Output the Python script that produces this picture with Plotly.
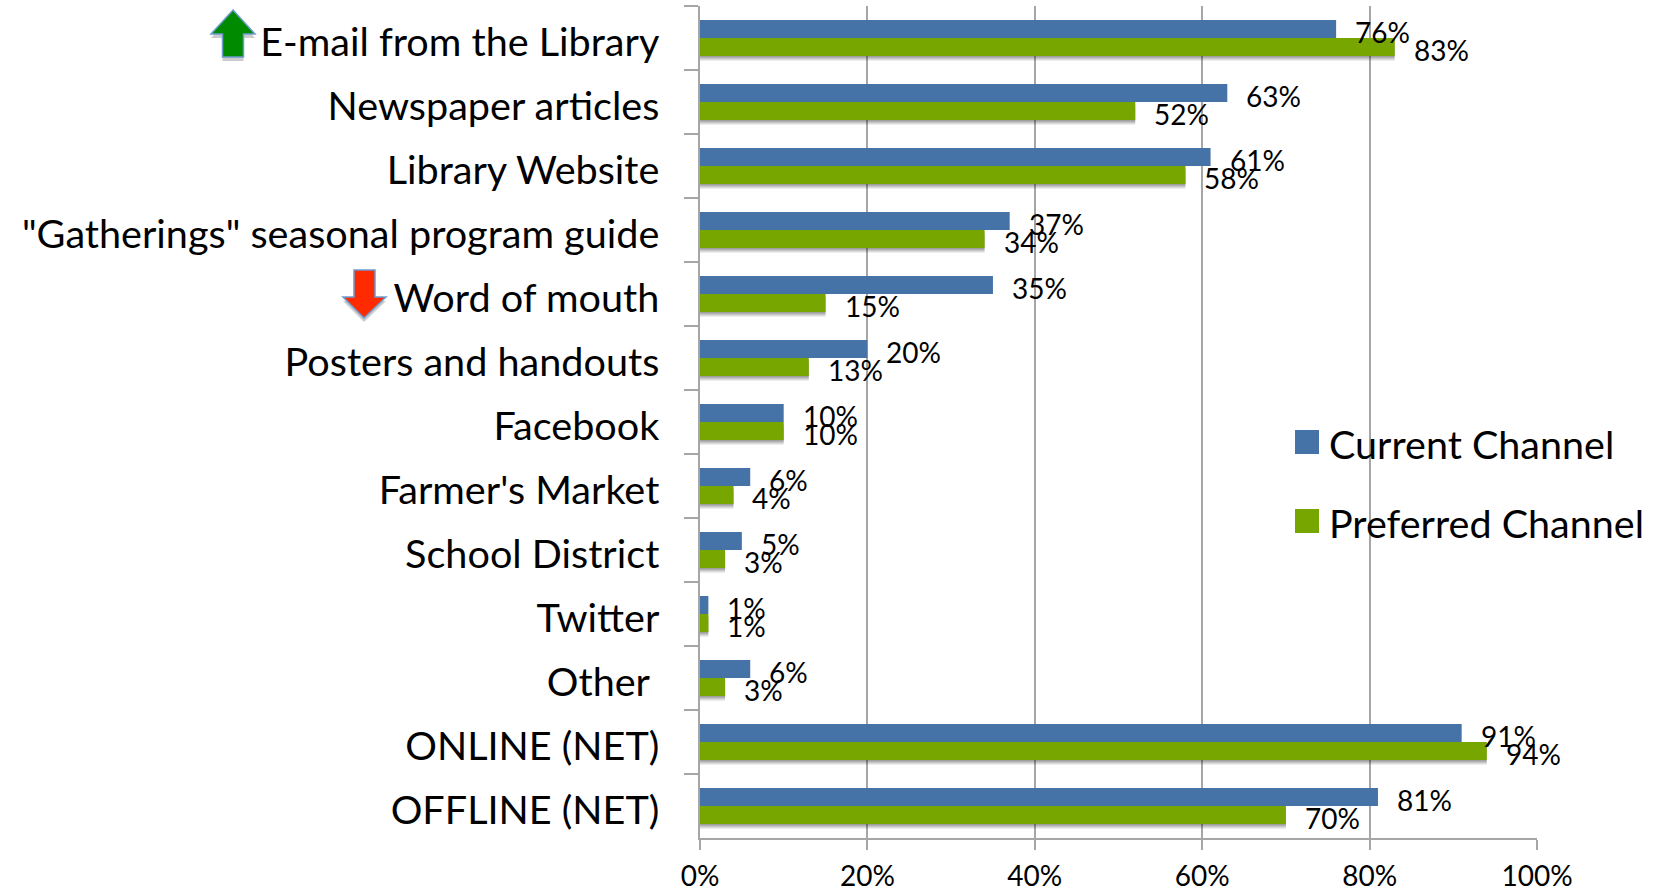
import plotly.graph_objects as go

categories = ["E-mail from the Library", "Newspaper articles", "Library Website",
              '"Gatherings" seasonal program guide', "Word of mouth", "Posters and handouts",
              "Facebook", "Farmer's Market", "School District", "Twitter", "Other\u00a0",
              "ONLINE (NET)", "OFFLINE (NET)"]
current_channel = [76, 63, 61, 37, 35, 20, 10, 6, 5, 1, 6, 91, 81]
preferred_channel = [83, 52, 58, 34, 15, 13, 10, 4, 3, 1, 3, 94, 70]
x_ticks = [0, 20, 40, 60, 80, 100]

BLUE, GREEN, GREY = "#4573A7", "#78A600", "#A6A6A6"
W, H, L, R, T, B = 1660, 894, 700, 1537, 6, 838
BAR = 18 / 64
px = lambda x: (x - L) / (R - L)
py = lambda y: (B - y) / (B - T)


def poly(points, fill, line=None, lw=0, opacity=1):
    path = "M" + "L".join(f"{px(x):.5f},{py(y):.5f}" for x, y in points) + "Z"
    return dict(type="path", xref="paper", yref="paper", path=path, fillcolor=fill, opacity=opacity,
                line=dict(color=line or fill, width=lw), layer="above")


fig = go.Figure()
for shift, alpha in [(0.075, 0.10), (0.05, 0.14), (0.025, 0.18)]:
    fig.add_bar(y=categories, x=preferred_channel, orientation="h", offset=shift, width=BAR,
                marker=dict(color="#000000", opacity=alpha, line_width=0), showlegend=False, hoverinfo="skip")
fig.add_bar(y=categories, x=current_channel, orientation="h", name="Current Channel",
            offset=-BAR, width=BAR, marker=dict(color=BLUE, line_width=0), showlegend=False)
fig.add_bar(y=categories, x=preferred_channel, orientation="h", name="Preferred Channel",
            offset=0, width=BAR, marker=dict(color=GREEN, line_width=0), showlegend=False)

LABEL = dict(family="Lato", size=28, color="#000000")
annotations = []
for cat, c, p in zip(categories, current_channel, preferred_channel):
    annotations.append(dict(x=c, y=cat, xref="x", yref="y", text=f"{c}%", showarrow=False, font=LABEL,
                            xanchor="left", yanchor="middle", xshift=17, yshift=6))
    annotations.append(dict(x=p, y=cat, xref="x", yref="y", text=f"{p}%", showarrow=False, font=LABEL,
                            xanchor="left", yanchor="middle", xshift=17, yshift=-12))

shapes = []
for name, color, y0 in [("Current Channel", BLUE, 430), ("Preferred Channel", GREEN, 509)]:
    shapes.append(poly([(1295, y0), (1319, y0), (1319, y0 + 24), (1295, y0 + 24)], color))
    annotations.append(dict(x=px(1327), y=py(y0 + 13), xref="paper", yref="paper", text=name, showarrow=False,
                            xanchor="left", yanchor="middle",
                            font=dict(family="Lato", size=39.5, color="#000000")))

up = [(233, 10), (255, 34), (243.5, 34), (243.5, 57), (222.5, 57), (222.5, 34), (211, 34)]
down = [(364, 318), (386, 297), (375, 297), (375, 270), (354, 270), (354, 297), (343, 297)]
shapes.append(poly([(x, y + 4) for x, y in up], "#000000", opacity=0.2))
shapes.append(poly([(x, y + 4) for x, y in down], "#000000", opacity=0.2))
shapes.append(poly(up, "#008A00", "#6E9BD0", 1.5))
shapes.append(poly(down, "#FF2A00", "#6E9BD0", 1.5))

fig.update_layout(
    width=W, height=H, margin=dict(l=L, r=W - R, t=T, b=H - B, pad=0),
    paper_bgcolor="#FFFFFF", plot_bgcolor="#FFFFFF", barmode="overlay", showlegend=False,
    font=dict(family="Lato", color="#000000"), annotations=annotations, shapes=shapes,
    xaxis=dict(range=[0, 100], tickvals=x_ticks, ticktext=[f"{t}%" for t in x_ticks], automargin=False,
               showgrid=True, gridcolor=GREY, gridwidth=1.5, zeroline=False,
               ticks="outside", ticklen=10, tickwidth=1.5, tickcolor=GREY,
               showline=True, linecolor=GREY, linewidth=1.5, ticklabelstandoff=3,
               tickfont=dict(family="Lato", size=28, color="#000000")),
    yaxis=dict(type="category", categoryorder="array", categoryarray=categories, autorange="reversed",
               automargin=False,
               tickson="boundaries", ticks="outside", ticklen=14, tickwidth=1.5, tickcolor=GREY,
               showline=True, linecolor=GREY, linewidth=1.5, showgrid=False, ticklabelstandoff=31,
               ticklabelshift=-4,
               tickfont=dict(family="Lato", size=39.6, color="#000000")),
)
fig.write_html("out.html", config={"displayModeBar": False},
               post_script="document.body.style.margin='0';document.body.style.overflow='hidden';")
